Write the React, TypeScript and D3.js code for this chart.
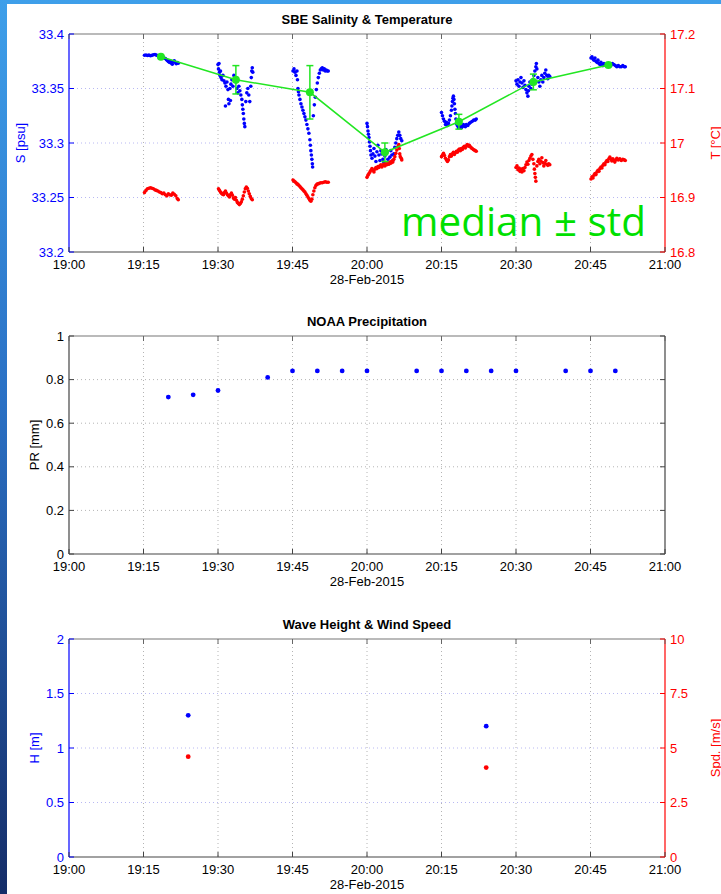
import React, { useEffect } from 'react';
import * as d3 from 'd3';

// ---------- text ----------
const TITLES = ['SBE Salinity & Temperature', 'NOAA Precipitation', 'Wave Height & Wind Speed'];
const DATE_LABEL = '28-Feb-2015';
const ANNOTATION = 'median \u00b1 std';

// ---------- axis ticks ----------
const S_TICKS = [33.2, 33.25, 33.3, 33.35, 33.4];
const T_TICKS = [16.8, 16.9, 17, 17.1, 17.2];
const PR_TICKS = [0, 0.2, 0.4, 0.6, 0.8, 1];
const H_TICKS = [0, 0.5, 1, 1.5, 2];
const SPD_TICKS = [0, 2.5, 5, 7.5, 10];

// ---------- SBE salinity bursts [minutes after 19:00, psu] ----------
const SAL_1915 = [[15.2,33.3805],[15.5,33.3808],[15.8,33.3803],[16.1,33.3806],[16.4,33.38],[16.7,33.3804],[17.0,33.3809],[17.3,33.3812],[17.6,33.3806],[17.9,33.38],[18.2,33.3796],[18.5,33.3794],[18.8,33.379],[19.1,33.3782],[19.4,33.3775],[19.6,33.3765],[19.8,33.3758],[20.0,33.3748],[20.2,33.374],[20.4,33.3752],[20.6,33.3735],[20.8,33.3722],[21.0,33.3745],[21.2,33.3755],[21.4,33.374],[21.6,33.3728],[21.8,33.3738],[22.0,33.3732]];
const SAL_1930 = [[30.0,33.372],[30.1,33.368],[30.2,33.373],[30.3,33.365],[30.4,33.362],[30.5,33.366],[30.6,33.36],[30.8,33.358],[31.0,33.362],[31.2,33.357],[31.4,33.355],[31.5,33.334],[31.6,33.352],[31.8,33.356],[32.0,33.349],[32.1,33.34],[32.2,33.336],[32.4,33.35],[32.5,33.339],[32.6,33.354],[32.8,33.358],[33.0,33.352],[33.2,33.362],[33.4,33.36],[33.6,33.356],[33.8,33.35],[34.0,33.346],[34.2,33.352],[34.4,33.348],[34.6,33.344],[34.8,33.34],[34.9,33.335],[35.0,33.331],[35.1,33.327],[35.2,33.322],[35.3,33.318],[35.4,33.315],[35.6,33.338],[35.8,33.346],[36.0,33.35],[36.2,33.344],[36.4,33.338],[36.6,33.352],[36.7,33.36],[36.8,33.366],[36.9,33.369],[37.0,33.365]];
const SAL_1945 = [[45.1,33.366],[45.3,33.368],[45.5,33.365],[45.7,33.362],[45.9,33.366],[46.0,33.358],[46.1,33.35],[46.2,33.347],[46.3,33.344],[46.5,33.34],[46.7,33.336],[46.9,33.333],[47.1,33.33],[47.3,33.327],[47.5,33.324],[47.7,33.321],[47.9,33.317],[48.1,33.313],[48.3,33.309],[48.5,33.303],[48.6,33.298],[48.7,33.293],[48.8,33.289],[48.9,33.285],[49.0,33.281],[49.05,33.278],[49.2,33.325],[49.4,33.335],[49.6,33.342],[49.8,33.349],[50.0,33.355],[50.2,33.36],[50.4,33.364],[50.6,33.367],[50.8,33.368],[51.0,33.369],[51.2,33.367],[51.4,33.368],[51.6,33.366],[51.8,33.367],[52.0,33.366],[52.2,33.366]];
const SAL_2000 = [[60.0,33.318],[60.1,33.315],[60.2,33.311],[60.3,33.308],[60.4,33.305],[60.5,33.301],[60.6,33.297],[60.7,33.293],[60.8,33.289],[61.0,33.286],[61.2,33.29],[61.4,33.295],[61.6,33.288],[61.8,33.283],[62.0,33.292],[62.2,33.298],[62.4,33.289],[62.6,33.284],[62.8,33.293],[63.0,33.29],[63.2,33.285],[63.4,33.282],[63.6,33.288],[63.8,33.294],[64.0,33.291],[64.2,33.285],[64.4,33.281],[64.6,33.287],[64.8,33.293],[65.0,33.289],[65.2,33.284],[65.4,33.29],[65.6,33.296],[65.8,33.3],[66.0,33.304],[66.2,33.307],[66.4,33.31],[66.6,33.307],[66.8,33.304],[67.0,33.302]];
const SAL_2015 = [[75.0,33.328],[75.2,33.325],[75.4,33.322],[75.6,33.32],[75.8,33.317],[76.0,33.319],[76.2,33.316],[76.4,33.318],[76.6,33.321],[76.8,33.325],[77.0,33.33],[77.1,33.334],[77.2,33.338],[77.3,33.341],[77.4,33.343],[77.5,33.34],[77.6,33.336],[77.7,33.331],[77.8,33.327],[77.9,33.322],[78.0,33.318],[78.2,33.316],[78.4,33.314],[78.6,33.315],[78.8,33.316],[79.0,33.314],[79.2,33.315],[79.4,33.317],[79.6,33.316],[79.8,33.315],[80.0,33.317],[80.3,33.316],[80.6,33.318],[80.9,33.319],[81.2,33.32],[81.5,33.321],[81.8,33.321],[82.0,33.322]];
const SAL_2030 = [[90.0,33.357],[90.2,33.354],[90.4,33.358],[90.6,33.352],[90.8,33.356],[91.0,33.36],[91.2,33.355],[91.4,33.351],[91.6,33.357],[91.8,33.353],[92.0,33.349],[92.2,33.346],[92.4,33.343],[92.5,33.348],[92.6,33.352],[92.8,33.356],[93.0,33.35],[93.2,33.354],[93.4,33.358],[93.6,33.362],[93.8,33.366],[94.0,33.37],[94.1,33.373],[94.2,33.368],[94.4,33.36],[94.6,33.356],[94.8,33.352],[95.0,33.358],[95.2,33.362],[95.4,33.356],[95.6,33.36],[95.8,33.364],[96.0,33.367],[96.2,33.362],[96.4,33.359],[96.6,33.362],[96.8,33.361]];
const SAL_2045 = [[105.1,33.378],[105.3,33.379],[105.5,33.377],[105.7,33.376],[105.9,33.378],[106.1,33.375],[106.3,33.374],[106.5,33.376],[106.7,33.373],[106.9,33.372],[107.1,33.374],[107.3,33.372],[107.5,33.371],[107.7,33.373],[107.9,33.372],[108.1,33.371],[108.3,33.372],[108.5,33.371],[108.8,33.372],[109.1,33.371],[109.4,33.373],[109.7,33.372],[110.0,33.371],[110.3,33.37],[110.6,33.371],[110.9,33.37],[111.2,33.37],[111.5,33.371],[111.8,33.37],[112.0,33.37]];

// ---------- SBE temperature bursts [minutes after 19:00, degC] ----------
const TEMP_1915 = [[15.2,16.909],[15.5,16.913],[15.8,16.916],[16.1,16.917],[16.4,16.918],[16.7,16.917],[17.0,16.916],[17.3,16.914],[17.6,16.913],[17.9,16.912],[18.2,16.91],[18.5,16.909],[18.8,16.907],[19.1,16.908],[19.4,16.905],[19.7,16.903],[20.0,16.907],[20.3,16.905],[20.6,16.904],[20.9,16.908],[21.2,16.906],[21.5,16.903],[21.8,16.898],[22.0,16.896]];
const TEMP_1930 = [[30.1,16.916],[30.3,16.913],[30.5,16.91],[30.7,16.908],[30.9,16.906],[31.1,16.905],[31.3,16.909],[31.5,16.912],[31.7,16.908],[31.9,16.905],[32.1,16.903],[32.3,16.901],[32.5,16.905],[32.7,16.908],[32.9,16.904],[33.1,16.899],[33.3,16.897],[33.5,16.9],[33.7,16.895],[33.9,16.891],[34.1,16.889],[34.3,16.887],[34.5,16.889],[34.7,16.892],[34.9,16.897],[35.1,16.903],[35.3,16.91],[35.5,16.916],[35.7,16.919],[35.9,16.917],[36.1,16.912],[36.3,16.907],[36.5,16.902],[36.7,16.898],[36.9,16.896]];
const TEMP_1945 = [[45.1,16.932],[45.3,16.93],[45.5,16.929],[45.7,16.927],[45.9,16.925],[46.1,16.924],[46.3,16.922],[46.5,16.92],[46.7,16.918],[46.9,16.916],[47.1,16.914],[47.3,16.912],[47.5,16.91],[47.7,16.907],[47.9,16.904],[48.1,16.901],[48.3,16.898],[48.5,16.895],[48.7,16.893],[48.9,16.897],[49.1,16.905],[49.3,16.912],[49.5,16.918],[49.7,16.922],[49.9,16.924],[50.1,16.925],[50.4,16.926],[50.7,16.927],[51.0,16.927],[51.3,16.928],[51.6,16.929],[51.9,16.928],[52.2,16.928]];
const TEMP_2000 = [[60.0,16.937],[60.2,16.941],[60.4,16.944],[60.6,16.947],[60.8,16.95],[61.0,16.953],[61.2,16.95],[61.4,16.947],[61.6,16.952],[61.8,16.955],[62.0,16.953],[62.2,16.957],[62.4,16.955],[62.6,16.958],[62.8,16.96],[63.0,16.956],[63.2,16.959],[63.4,16.961],[63.6,16.958],[63.8,16.962],[64.0,16.96],[64.2,16.963],[64.4,16.961],[64.6,16.965],[64.8,16.963],[65.0,16.967],[65.2,16.965],[65.4,16.97],[65.6,16.975],[65.8,16.981],[66.0,16.987],[66.2,16.993],[66.4,16.997],[66.5,16.99],[66.6,16.98],[66.7,16.975],[66.9,16.972],[67.0,16.969]];
const TEMP_2015 = [[75.0,16.975],[75.2,16.978],[75.4,16.981],[75.6,16.977],[75.8,16.972],[76.0,16.969],[76.2,16.966],[76.4,16.969],[76.6,16.975],[76.8,16.979],[77.0,16.976],[77.2,16.98],[77.4,16.983],[77.6,16.979],[77.8,16.982],[78.0,16.985],[78.2,16.983],[78.4,16.987],[78.6,16.989],[78.8,16.986],[79.0,16.99],[79.2,16.988],[79.4,16.992],[79.6,16.994],[79.8,16.991],[80.0,16.995],[80.2,16.997],[80.4,16.994],[80.6,16.996],[80.8,16.993],[81.0,16.991],[81.2,16.99],[81.4,16.988],[81.6,16.987],[81.8,16.986],[82.0,16.985]];
const TEMP_2030 = [[90.0,16.955],[90.2,16.958],[90.4,16.951],[90.6,16.954],[90.8,16.948],[91.0,16.952],[91.2,16.947],[91.4,16.953],[91.6,16.949],[91.8,16.955],[92.0,16.96],[92.2,16.965],[92.4,16.961],[92.6,16.968],[92.8,16.972],[93.0,16.976],[93.2,16.979],[93.4,16.97],[93.6,16.962],[93.7,16.952],[93.8,16.944],[93.9,16.937],[94.0,16.93],[94.2,16.958],[94.4,16.966],[94.6,16.97],[94.8,16.962],[95.0,16.967],[95.2,16.973],[95.4,16.964],[95.6,16.958],[95.8,16.963],[96.0,16.968],[96.2,16.961],[96.4,16.959],[96.6,16.962],[96.8,16.96]];
const TEMP_2045 = [[105.1,16.934],[105.3,16.938],[105.5,16.936],[105.7,16.941],[105.9,16.944],[106.1,16.942],[106.3,16.947],[106.5,16.95],[106.7,16.948],[106.9,16.953],[107.1,16.956],[107.3,16.954],[107.5,16.959],[107.7,16.962],[107.9,16.96],[108.1,16.965],[108.3,16.968],[108.5,16.966],[108.7,16.971],[108.9,16.974],[109.1,16.97],[109.3,16.967],[109.5,16.971],[109.7,16.968],[109.9,16.965],[110.1,16.969],[110.3,16.972],[110.6,16.969],[110.9,16.971],[111.2,16.968],[111.5,16.97],[111.8,16.969],[112.0,16.968]];

// ---------- burst medians ----------
const MED_MINUTES = [18.5, 33.6, 48.5, 63.6, 78.5, 93.5, 108.6];
const MED_S = [33.3792, 33.358, 33.3465, 33.2915, 33.3195, 33.356, 33.3716];
const MED_STD = [0.0008, 0.013, 0.0245, 0.0085, 0.0068, 0.0072, 0.0009];

// ---------- NOAA precipitation ----------
const PR_MINUTES = [20, 25, 30, 40, 45, 50, 55, 60, 70, 75, 80, 85, 90, 100, 105, 110];
const PR_VALUES = [0.72, 0.73, 0.75, 0.81, 0.84, 0.84, 0.84, 0.84, 0.84, 0.84, 0.84, 0.84, 0.84, 0.84, 0.84, 0.84];

// ---------- wave height & wind speed ----------
const WAVE_MINUTES = [24, 84];
const WAVE_H = [1.3, 1.2];
const WIND_SPD = [4.6, 4.1];

const SAL_BURSTS = [SAL_1915, SAL_1930, SAL_1945, SAL_2000, SAL_2015, SAL_2030, SAL_2045];
const TEMP_BURSTS = [TEMP_1915, TEMP_1930, TEMP_1945, TEMP_2000, TEMP_2015, TEMP_2030, TEMP_2045];

// ---------- layout ----------
const W = 721, H = 894;
const X0 = 69, X1 = 665, PH = 218;
const TOPS = [34, 336, 639];
const FONT = '"Liberation Sans", Arial, Helvetica, sans-serif';
const BLUE = '#0000ff', RED = '#ff0000', GREEN = '#22e622';

const base = new Date(2015, 1, 28, 19, 0, 0);
const tm = (m: number) => new Date(base.getTime() + m * 60000);
const x = d3.scaleTime().domain([tm(0), tm(120)]).range([X0, X1]);
const xTicks = x.ticks(d3.timeMinute.every(15) as any);
const fmtTime = d3.timeFormat('%H:%M');

type Lin = d3.ScaleLinear<number, number>;

function Frame(p: {
  top: number; yL: Lin; lTicks: number[]; lColor: string; lText: string; hGrid: string;
  title: string; yLabel: string; yLabelX: number;
  yR?: Lin; rTicks?: number[]; rColor?: string; rLabel?: string;
}) {
  const bottom = p.top + PH;
  const mid = p.top + PH / 2;
  const inner = (v: number, s: Lin) => Math.abs(s(v) - p.top) > 1 && Math.abs(s(v) - bottom) > 1;
  return (
    <g fontFamily={FONT}>
      {/* grid */}
      {xTicks.filter((d) => x(d) > X0 + 1 && x(d) < X1 - 1).map((d, i) => (
        <line key={'vg' + i} x1={x(d)} x2={x(d)} y1={p.top} y2={bottom} stroke="#b4b4b4" strokeWidth={1} strokeDasharray="1,3" />
      ))}
      {p.lTicks.filter((v) => inner(v, p.yL)).map((v, i) => (
        <line key={'hg' + i} x1={X0} x2={X1} y1={p.yL(v)} y2={p.yL(v)} stroke={p.hGrid} strokeWidth={1} strokeDasharray="1,3" />
      ))}
      {/* box */}
      <line x1={X0} x2={X1} y1={p.top} y2={p.top} stroke="#777" strokeWidth={1.2} />
      <line x1={X0} x2={X1} y1={bottom} y2={bottom} stroke="#444" strokeWidth={1.2} />
      <line x1={X0} x2={X0} y1={p.top} y2={bottom} stroke={p.lColor} strokeWidth={1.2} />
      <line x1={X1} x2={X1} y1={p.top} y2={bottom} stroke={p.rColor ?? '#444'} strokeWidth={1.2} />
      {/* x ticks */}
      {xTicks.map((d, i) => (
        <g key={'xt' + i}>
          <line x1={x(d)} x2={x(d)} y1={bottom} y2={bottom - 5} stroke="#444" />
          <line x1={x(d)} x2={x(d)} y1={p.top} y2={p.top + 5} stroke="#666" />
          <text x={x(d)} y={bottom + 16.5} fontSize={13} textAnchor="middle" fill="#000">{fmtTime(d)}</text>
        </g>
      ))}
      <text x={(X0 + X1) / 2} y={bottom + 31.5} fontSize={13} textAnchor="middle" fill="#000">{DATE_LABEL}</text>
      {/* left ticks */}
      {p.lTicks.map((v, i) => (
        <g key={'lt' + i}>
          <line x1={X0} x2={X0 + 5} y1={p.yL(v)} y2={p.yL(v)} stroke={p.lColor} />
          {!p.yR && <line x1={X1} x2={X1 - 5} y1={p.yL(v)} y2={p.yL(v)} stroke="#444" />}
          <text x={X0 - 5} y={p.yL(v) + 4.6} fontSize={13} textAnchor="end" fill={p.lText}>{String(v)}</text>
        </g>
      ))}
      <text transform={`translate(${p.yLabelX},${mid}) rotate(-90)`} dy="0.35em" fontSize={13} textAnchor="middle" fill={p.lText}>{p.yLabel}</text>
      {/* right ticks */}
      {p.yR && p.rTicks && p.rTicks.map((v, i) => (
        <g key={'rt' + i}>
          <line x1={X1} x2={X1 - 5} y1={p.yR!(v)} y2={p.yR!(v)} stroke={p.rColor} />
          <text x={X1 + 5} y={p.yR!(v) + 4.6} fontSize={13} textAnchor="start" fill={p.rColor}>{String(v)}</text>
        </g>
      ))}
      {p.rLabel && (
        <text transform={`translate(715,${mid}) rotate(-90)`} dy="0.35em" fontSize={13} textAnchor="middle" fill={p.rColor}>{p.rLabel}</text>
      )}
      <text x={(X0 + X1) / 2} y={p.top - 10.5} fontSize={13} fontWeight="bold" textAnchor="middle" fill="#000">{p.title}</text>
    </g>
  );
}

export default function App() {
  useEffect(() => {
    document.body.style.margin = '0';
  }, []);

  const t1 = TOPS[0], t2 = TOPS[1], t3 = TOPS[2];
  const yS = d3.scaleLinear().domain([33.2, 33.4]).range([t1 + PH, t1]);
  const yT = d3.scaleLinear().domain([16.8, 17.2]).range([t1 + PH, t1]);
  const yPR = d3.scaleLinear().domain([0, 1]).range([t2 + PH, t2]);
  const yH = d3.scaleLinear().domain([0, 2]).range([t3 + PH, t3]);
  const ySpd = d3.scaleLinear().domain([0, 10]).range([t3 + PH, t3]);

  const medLine = d3.line<number>()
    .x((_, i) => x(tm(MED_MINUTES[i])))
    .y((v) => yS(v))(MED_S) as string;

  return (
    <svg width={W} height={H} style={{ display: 'block', position: 'absolute', left: 0, top: 0 }}>
      <defs>
        <linearGradient id="bg" x1="0" y1="0" x2="0" y2="1">
          <stop offset="0%" stopColor="#3e9fea" />
          <stop offset="45%" stopColor="#2a70c4" />
          <stop offset="100%" stopColor="#152d68" />
        </linearGradient>
      </defs>
      <rect x={0} y={0} width={W} height={H} fill="url(#bg)" />
      <rect x={7} y={4} width={W - 7} height={H - 4} fill="#ffffff" />

      {/* Panel 1 */}
      <Frame top={t1} yL={yS} lTicks={S_TICKS} lColor={BLUE} lText={BLUE} hGrid="#b8b8f2"
        title={TITLES[0]} yLabel="S [psu]" yLabelX={20}
        yR={yT} rTicks={T_TICKS} rColor={RED} rLabel="T [°C]" />
      <g>
        {SAL_BURSTS.map((b, bi) => b.map((d, i) => (
          <circle key={`s${bi}-${i}`} cx={x(tm(d[0]))} cy={yS(d[1])} r={1.8} fill={BLUE} />
        )))}
        {TEMP_BURSTS.map((b, bi) => b.map((d, i) => (
          <circle key={`t${bi}-${i}`} cx={x(tm(d[0]))} cy={yT(d[1])} r={1.8} fill={RED} />
        )))}
        <path d={medLine} fill="none" stroke={GREEN} strokeWidth={1.5} />
        {MED_MINUTES.map((m, i) => {
          const cx = x(tm(m));
          const ya = yS(MED_S[i] + MED_STD[i]);
          const yb = yS(MED_S[i] - MED_STD[i]);
          return (
            <g key={'m' + i} stroke={GREEN} strokeWidth={1.5}>
              <line x1={cx} x2={cx} y1={ya} y2={yb} />
              <line x1={cx - 3.5} x2={cx + 3.5} y1={ya} y2={ya} />
              <line x1={cx - 3.5} x2={cx + 3.5} y1={yb} y2={yb} />
              <circle cx={cx} cy={yS(MED_S[i])} r={4} fill={GREEN} stroke="none" />
            </g>
          );
        })}
        <text x={401} y={236} fontSize={41} fontFamily='"Open Sans", "DejaVu Sans", sans-serif' fill="#00e000"
          textLength={245} lengthAdjust="spacingAndGlyphs">{ANNOTATION}</text>
      </g>

      {/* Panel 2 */}
      <Frame top={t2} yL={yPR} lTicks={PR_TICKS} lColor="#444" lText="#000" hGrid="#b4b4b4"
        title={TITLES[1]} yLabel="PR [mm]" yLabelX={34} />
      {PR_MINUTES.map((m, i) => (
        <circle key={'pr' + i} cx={x(tm(m))} cy={yPR(PR_VALUES[i])} r={2.4} fill={BLUE} />
      ))}

      {/* Panel 3 */}
      <Frame top={t3} yL={yH} lTicks={H_TICKS} lColor={BLUE} lText={BLUE} hGrid="#b8b8f2"
        title={TITLES[2]} yLabel="H [m]" yLabelX={34}
        yR={ySpd} rTicks={SPD_TICKS} rColor={RED} rLabel="Spd. [m/s]" />
      {WAVE_MINUTES.map((m, i) => (
        <g key={'w' + i}>
          <circle cx={x(tm(m))} cy={yH(WAVE_H[i])} r={2.4} fill={BLUE} />
          <circle cx={x(tm(m))} cy={ySpd(WIND_SPD[i])} r={2.4} fill={RED} />
        </g>
      ))}
    </svg>
  );
}
